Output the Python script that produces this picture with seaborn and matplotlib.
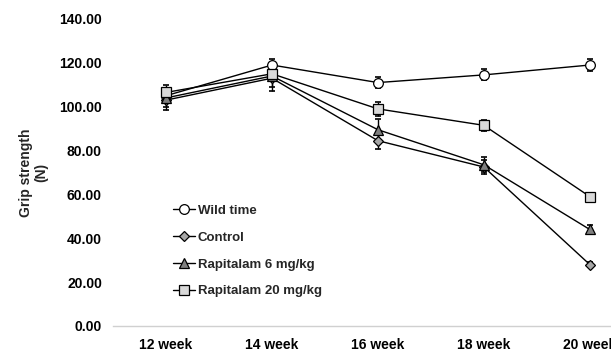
import matplotlib
matplotlib.use("Agg")
import matplotlib.pyplot as plt
import seaborn as sns
import pandas as pd

weeks = ["12 week", "14 week", "16 week", "18 week", "20 week"]
groups = ["Wild time", "Control", "Rapitalam 6 mg/kg", "Rapitalam 20 mg/kg"]

wild_time = [105.0, 119.0, 111.0, 114.5, 119.0]
control = [103.0, 113.0, 84.5, 72.5, 28.0]
rapitalam_6 = [104.0, 114.0, 89.5, 73.5, 44.0]
rapitalam_20 = [106.5, 115.0, 99.0, 91.5, 59.0]

wild_time_err = [3.5, 2.8, 2.5, 2.5, 2.8]
control_err = [4.5, 6.0, 4.0, 3.0, 1.0]
rapitalam_6_err = [4.0, 5.0, 4.8, 3.5, 2.0]
rapitalam_20_err = [3.5, 3.5, 3.3, 2.5, 1.5]

yticks = [0, 20, 40, 60, 80, 100, 120, 140]

values = [wild_time, control, rapitalam_6, rapitalam_20]
errors = [wild_time_err, control_err, rapitalam_6_err, rapitalam_20_err]
markers = ["o", "D", "^", "s"]
fills = ["#ffffff", "#a6a6a6", "#7f7f7f", "#d9d9d9"]
sizes = [7, 5.5, 7, 7]

rows = []
for g, vals, errs in zip(groups, values, errors):
    for i, (w, v, e) in enumerate(zip(weeks, vals, errs)):
        rows.append({"group": g, "week": w, "pos": i, "value": v, "err": e})
df = pd.DataFrame(rows)

sns.set_theme(style="white")
plt.rcParams["font.family"] = ["Liberation Sans", "DejaVu Sans"]
plt.rcParams["font.weight"] = "bold"

fig = plt.figure(figsize=(6.11, 3.56), dpi=100)
ax = fig.add_axes([0.185, 0.0843, 0.815, 0.8624])

for g, m, fc, ms in zip(groups, markers, fills, sizes):
    sub = df[df["group"] == g]
    ax.errorbar(sub["pos"], sub["value"], yerr=sub["err"], fmt="none",
                ecolor="black", elinewidth=1.0, capsize=2.5, capthick=1.2, zorder=2)
    sns.lineplot(data=sub, x="pos", y="value", ax=ax, color="black",
                 linewidth=1.0, marker=m, markersize=ms, markerfacecolor=fc,
                 markeredgecolor="black", markeredgewidth=0.9, label=g,
                 zorder=3)

ax.set_xlim(-0.5, 4.2)
ax.set_ylim(0, 140)
ax.set_xticks(range(len(weeks)))
ax.set_xticklabels(weeks)
ax.set_yticks(yticks)
ax.set_yticklabels([f"{t:.2f}" for t in yticks])
ax.tick_params(axis="both", length=0, labelsize=10, colors="black", pad=8)
ax.tick_params(axis="x", pad=9)
for lab in ax.get_xticklabels() + ax.get_yticklabels():
    lab.set_fontweight("bold")

for s in ["top", "right", "left"]:
    ax.spines[s].set_visible(False)
ax.spines["bottom"].set_color("#d0d0d0")
ax.spines["bottom"].set_linewidth(1.0)

ax.set_xlabel("")
ax.set_ylabel("Grip strength\n(N)", fontsize=10, fontweight="bold", labelpad=8,
              linespacing=1.1)

leg = ax.legend(loc="upper left", bbox_to_anchor=(0.2635, 0.458),
                bbox_transform=fig.transFigure, frameon=False,
                handlelength=1.7, handletextpad=0.2, labelspacing=1.1,
                prop={"size": 9.5, "weight": "bold"})

fig.savefig("out.png", dpi=100)
